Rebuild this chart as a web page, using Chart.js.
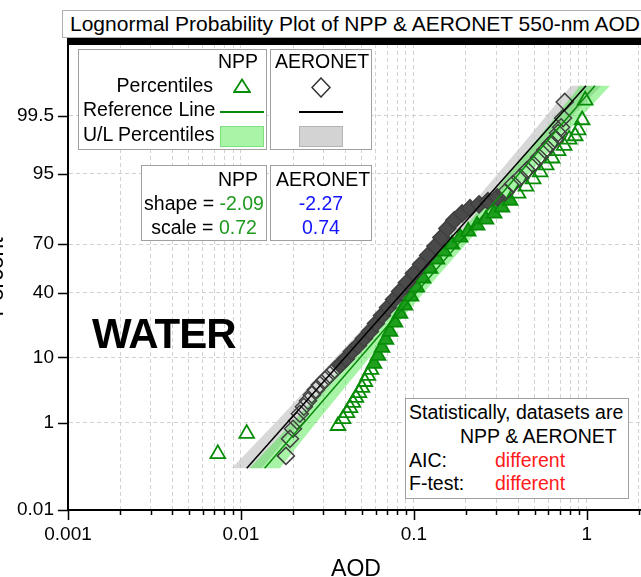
<!DOCTYPE html>
<html>
<head>
<meta charset="utf-8">
<script src="https://cdn.jsdelivr.net/npm/chart.js@4.4.0/dist/chart.umd.min.js"></script>
<style>
  html, body { margin: 0; padding: 0; background: #fff; }
  #page { position: relative; width: 641px; height: 577px; overflow: hidden; font-family: "Liberation Sans", Arial, sans-serif; color: #000; }
  #probChart { position: absolute; left: -24px; top: 0; }
  .box { position: absolute; box-sizing: border-box; border: 1px solid #a0a0a0; background: #fff; }
  .t { position: absolute; font-size: 19.5px; line-height: 19.5px; white-space: nowrap; }
  .r { text-align: right; }
  .c { text-align: center; }
  .green { color: #1f9a1f; }
  .blue { color: #1414ff; }
  .red { color: #ff1a1a; }
  .sym { position: absolute; }
</style>
</head>
<body>
<div id="page">
  <canvas id="probChart" width="690" height="600"></canvas>

  <div class="box" style="left:62px; top:10px; width:640px; height:28px; border-color:#b0b0b0;"></div>
  <div class="t" style="left:70px; top:13px; font-size:21px; line-height:21px;">Lognormal Probability Plot of NPP &amp; AERONET 550-nm AOD</div>

  <div class="box" style="left:78px; top:49px; width:189px; height:101px;"></div>
  <div class="box" style="left:270px; top:49px; width:102px; height:101px;"></div>
  <div class="t r" style="left:200px; top:51.5px; width:58px;">NPP</div>
  <div class="t r" style="left:83px; top:76px; width:130px;">Percentiles</div>
  <div class="t r" style="left:83px; top:100.2px; width:130px;">Reference Line</div>
  <div class="t r" style="left:83px; top:124.5px; width:130px;">U/L Percentiles</div>
  <svg class="sym" style="left:233px; top:78px;" width="18" height="15"><polygon points="9,1.5 1,14 17,14" fill="none" stroke="#078c07" stroke-width="1.8"/></svg>
  <div class="sym" style="left:220px; top:111px; width:44px; height:2px; background:#0a8a0a;"></div>
  <div class="sym" style="left:220px; top:126px; width:44px; height:21px; box-sizing:border-box; background:#a8f5a8; border:1px solid #80e080;"></div>
  <div class="t c" style="left:275px; top:51.5px; width:90px;">AERONET</div>
  <svg class="sym" style="left:311px; top:77px;" width="20" height="21"><polygon points="10,1 19,10.5 10,20 1,10.5" fill="#fff" stroke="#333" stroke-width="1.5"/></svg>
  <div class="sym" style="left:299px; top:111px; width:44px; height:2px; background:#000;"></div>
  <div class="sym" style="left:299px; top:126px; width:44px; height:21px; box-sizing:border-box; background:#d3d3d3; border:1px solid #b4b4b4;"></div>

  <div class="box" style="left:141px; top:165px; width:126px; height:76px;"></div>
  <div class="box" style="left:270px; top:165px; width:102px; height:76px;"></div>
  <div class="t r" style="left:200px; top:169.5px; width:58px;">NPP</div>
  <div class="t c" style="left:144px; top:193.5px; width:120px;">shape = <span class="green">-2.09</span></div>
  <div class="t c" style="left:144px; top:217.5px; width:120px;">scale = <span class="green">0.72</span></div>
  <div class="t c" style="left:276px; top:169.5px; width:90px;">AERONET</div>
  <div class="t c blue" style="left:276px; top:193.5px; width:90px;">-2.27</div>
  <div class="t c blue" style="left:276px; top:217.5px; width:90px;">0.74</div>

  <div class="t" style="left:92px; top:312.5px; font-size:42px; line-height:42px; font-weight:bold; letter-spacing:-1px;">WATER</div>

  <div class="box" style="left:405px; top:398px; width:224px; height:101px;"></div>
  <div class="t" style="left:409px; top:402.5px;">Statistically, datasets are</div>
  <div class="t" style="left:460px; top:426.5px;">NPP &amp; AERONET</div>
  <div class="t" style="left:409px; top:450.5px;">AIC:</div>
  <div class="t red" style="left:495px; top:450.5px;">different</div>
  <div class="t" style="left:409px; top:474px;">F-test:</div>
  <div class="t red" style="left:495px; top:474px;">different</div>
</div>

<script>
// Axes: AOD on a log axis, cumulative percent on a normal probability axis
const xMin = 0.001, xMax = 2.14;
const xMajorTicks = [0.001, 0.01, 0.1, 1];
const xTickLabels = ['0.001', '0.01', '0.1', '1'];
const xMinorSteps = [2, 3, 4, 5, 6, 7, 8, 9];
const yMin = 0.01, yMax = 99.99;
const yTicks = [0.01, 1, 10, 40, 70, 95, 99.5];

// NPP percentiles (green triangles)
const nppAod = [0.00735, 0.0108, 0.0364, 0.0389, 0.0410, 0.0427, 0.0444, 0.0462, 0.0481, 0.0501,
  0.0521, 0.0542, 0.0565, 0.0588, 0.0620, 0.0654, 0.0689, 0.0727, 0.0777, 0.0831,
  0.0888, 0.0962, 0.104, 0.113, 0.124, 0.136, 0.149, 0.166, 0.185, 0.206,
  0.232, 0.261, 0.291, 0.323, 0.360, 0.400, 0.445, 0.489, 0.537, 0.582,
  0.630, 0.682, 0.739, 0.790, 0.856, 0.891, 0.939, 0.978];
const nppPct = [0.238, 0.62, 0.88, 1.18, 1.51, 1.84, 2.24, 2.70, 3.23, 3.86,
  4.73, 5.76, 6.95, 8.35, 10.5, 13.0, 15.9, 19.2, 23.4, 28.0,
  32.5, 37.8, 43.4, 49.1, 55.4, 61.1, 65.9, 69.9, 73.6, 76.7,
  79.5, 82.1, 84.5, 86.7, 88.9, 90.9, 92.6, 94.1, 95.3, 96.3,
  97.1, 97.8, 98.2, 98.6, 98.78, 99.05, 99.39, 99.76];

// AERONET percentiles (grey diamonds)
const aeronetAod = [0.0182, 0.0192, 0.0200, 0.0211, 0.0219, 0.0231, 0.0244, 0.0257, 0.0271, 0.0286,
  0.0306, 0.0327, 0.0349, 0.0374, 0.0405, 0.0438, 0.0475, 0.0514, 0.0557, 0.0603,
  0.0654, 0.0708, 0.0767, 0.0831, 0.0912, 0.100, 0.110, 0.121, 0.133, 0.144,
  0.156, 0.171, 0.190, 0.211, 0.238, 0.268, 0.303, 0.337, 0.374, 0.411,
  0.451, 0.489, 0.530, 0.574, 0.613, 0.656, 0.682, 0.710, 0.729, 0.745];
const aeronetPct = [0.215, 0.49, 0.77, 1.09, 1.45, 1.92, 2.41, 3.01, 3.60, 4.28,
  5.06, 5.94, 6.95, 8.09, 9.63, 11.7, 13.7, 16.3, 19.2, 22.9,
  26.9, 31.3, 36.0, 40.9, 46.5, 52.3, 58.0, 63.5, 68.8, 73.6,
  78.1, 81.7, 84.5, 86.4, 87.7, 88.7, 89.8, 91.2, 93.1, 94.4,
  95.6, 96.4, 97.2, 97.86, 98.31, 98.61, 98.92, 99.16, 99.44, 99.74];

// Reference lines (end points)
const refPct = [0.113, 99.887];
const nppRefAod = [0.0137, 1.114];
const aeronetRefAod = [0.0108, 0.989];

// U/L percentile bands: up the lower edge, back down the upper edge
const bandPct = [0.113, 1, 5, 20, 50, 80, 95, 99, 99.887, 99.887, 99, 95, 80, 50, 20, 5, 1, 0.113];
const nppBandAod = [0.0112, 0.0198, 0.0331, 0.0607, 0.113, 0.204, 0.354, 0.563, 0.912,
  1.36, 0.775, 0.462, 0.252, 0.136, 0.0751, 0.0433, 0.0272, 0.0168];
const aeronetBandAod = [0.00884, 0.0158, 0.0268, 0.0498, 0.0941, 0.173, 0.305, 0.492, 0.810,
  1.21, 0.677, 0.399, 0.214, 0.113, 0.0617, 0.0350, 0.0217, 0.0132];

const pts = (xs, ys) => xs.map((x, i) => ({ x: x, y: ys[i] }));
const xTicks = xMajorTicks.flatMap(d => [d].concat(xMinorSteps.map(m => d * m))).filter(v => v <= xMax);

// inverse normal cdf (Acklam)
function probit(p) {
  const a = [-39.69683028665376, 220.9460984245205, -275.9285104469687, 138.3577518672690, -30.66479806614716, 2.506628277459239];
  const b = [-54.47609879822406, 161.5858368580409, -155.6989798598866, 66.80131188771972, -13.28068155288572];
  const c = [-0.007784894002430293, -0.3223964580411365, -2.400758277161838, -2.549732539343734, 4.374664141464968, 2.938163982698783];
  const d = [0.007784695709041462, 0.3224671290700398, 2.445134137142996, 3.754408661907416];
  const tail = q => (((((c[0] * q + c[1]) * q + c[2]) * q + c[3]) * q + c[4]) * q + c[5]) /
    ((((d[0] * q + d[1]) * q + d[2]) * q + d[3]) * q + 1);
  if (p < 0.02425) return tail(Math.sqrt(-2 * Math.log(p)));
  if (p > 1 - 0.02425) return -tail(Math.sqrt(-2 * Math.log(1 - p)));
  const q = p - 0.5, r = q * q;
  return (((((a[0] * r + a[1]) * r + a[2]) * r + a[3]) * r + a[4]) * r + a[5]) * q /
    (((((b[0] * r + b[1]) * r + b[2]) * r + b[3]) * r + b[4]) * r + 1);
}
function normCdf(z) {
  const t = 1 / (1 + 0.3275911 * Math.abs(z) / Math.SQRT2);
  const e = 1 - ((((1.061405429 * t - 1.453152027) * t + 1.421413741) * t - 0.284496736) * t + 0.254829592) * t * Math.exp(-z * z / 2);
  return z >= 0 ? (1 + e) / 2 : (1 - e) / 2;
}

// normal probability axis, values in percent
class ProbabilityScale extends Chart.Scale {
  determineDataLimits() {
    this.min = this.options.min;
    this.max = this.options.max;
  }
  buildTicks() {
    return yTicks.map(v => ({ value: v }));
  }
  configure() {
    super.configure();
    this._zStart = probit(this.min / 100);
    this._zRange = probit(this.max / 100) - this._zStart;
  }
  getLabelForValue(v) { return String(v); }
  getPixelForValue(v) {
    return this.getPixelForDecimal((probit(v / 100) - this._zStart) / this._zRange);
  }
  getValueForPixel(px) {
    return 100 * normCdf(this._zStart + this.getDecimalForPixel(px) * this._zRange);
  }
}
ProbabilityScale.id = 'probability';
ProbabilityScale.defaults = {};
Chart.register(ProbabilityScale);

// tick marks (long at decades, short in between) and the heavy top frame
const axisDecor = {
  id: 'axisDecor',
  afterDraw(chart) {
    const { ctx, chartArea: a, scales: { x, y } } = chart;
    ctx.save();
    ctx.strokeStyle = '#000';
    ctx.lineWidth = 1.5;
    ctx.beginPath();
    x.ticks.forEach(t => {
      const px = Math.round(x.getPixelForValue(t.value)) + 0.5;
      const len = xMajorTicks.includes(t.value) ? 10 : 5;
      ctx.moveTo(px, a.bottom);
      ctx.lineTo(px, a.bottom + len);
    });
    y.ticks.forEach(t => {
      const py = Math.round(y.getPixelForValue(t.value)) + 0.5;
      ctx.moveTo(a.left, py);
      ctx.lineTo(a.left - 10, py);
    });
    ctx.stroke();
    ctx.fillStyle = '#000';
    ctx.fillRect(a.left - 1, a.top - 6, chart.width - a.left + 1, 7);
    ctx.restore();
  }
};

const clearFill = 'rgba(255,255,255,0)';
const aeronetFill = aeronetPct.map(p => (p > 7.5 && p < 90.5) ? '#4a4a4a' : clearFill);
const nppFill = nppPct.map(p => (p > 7.5 && p < 89.5) ? '#1ea01e' : clearFill);

Chart.defaults.font.family = '"Liberation Sans", Arial, sans-serif';
Chart.defaults.color = '#000';

const axisBorder = { display: true, color: '#000', width: 2, dash: [4, 3] };

const chart = new Chart(document.getElementById('probChart'), {
  type: 'scatter',
  data: {
    datasets: [
      {
        label: 'AERONET Reference Line',
        data: pts(aeronetRefAod, refPct),
        showLine: true, borderColor: '#000', borderWidth: 1.5, pointRadius: 0, order: 0
      },
      {
        label: 'NPP Reference Line',
        data: pts(nppRefAod, refPct),
        showLine: true, borderColor: '#0a8a0a', borderWidth: 1.5, pointRadius: 0, order: 0
      },
      {
        label: 'AERONET Percentiles',
        data: pts(aeronetAod, aeronetPct),
        pointStyle: 'rectRot', pointRadius: 8.5, pointBorderWidth: 1.5,
        pointBorderColor: '#404040', pointBackgroundColor: aeronetFill, order: 1
      },
      {
        label: 'NPP Percentiles',
        data: pts(nppAod, nppPct),
        pointStyle: 'triangle', pointRadius: 8.5, pointBorderWidth: 1.8,
        pointBorderColor: '#078c07', pointBackgroundColor: nppFill, order: 2
      },
      {
        label: 'NPP U/L Percentiles',
        data: pts(nppBandAod, bandPct),
        showLine: true, fill: 'shape', backgroundColor: 'rgba(60,230,60,0.45)',
        borderColor: 'transparent', borderWidth: 0, pointRadius: 0, order: 3
      },
      {
        label: 'AERONET U/L Percentiles',
        data: pts(aeronetBandAod, bandPct),
        showLine: true, fill: 'shape', backgroundColor: 'rgba(190,190,190,0.6)',
        borderColor: 'transparent', borderWidth: 0, pointRadius: 0, order: 4
      }
    ]
  },
  options: {
    responsive: false,
    animation: false,
    devicePixelRatio: 1,
    layout: { padding: { left: 0, right: 22, top: 44, bottom: 17 } },
    plugins: {
      legend: { display: false },
      tooltip: { enabled: false }
    },
    scales: {
      x: {
        type: 'logarithmic',
        position: 'bottom',
        min: xMin,
        max: xMax,
        afterBuildTicks: s => { s.ticks = xTicks.map(v => ({ value: v })); },
        afterFit: s => { s.height = 73; },
        ticks: {
          autoSkip: false,
          maxRotation: 0,
          padding: 13,
          font: { size: 19 },
          color: '#000',
          callback: v => {
            const i = xMajorTicks.indexOf(v);
            return i >= 0 ? xTickLabels[i] : '';
          }
        },
        grid: { color: '#d2d2d2', lineWidth: 1, drawTicks: false },
        border: axisBorder,
        title: { display: true, text: 'AOD', font: { size: 23 }, color: '#000', padding: { top: 0, bottom: 0 } }
      },
      y: {
        type: 'probability',
        position: 'left',
        min: yMin,
        max: yMax,
        afterFit: s => { s.width = 92; },
        ticks: { autoSkip: false, padding: 14, font: { size: 19 }, color: '#000' },
        grid: { color: '#d2d2d2', lineWidth: 1, drawTicks: false },
        border: axisBorder,
        title: { display: true, text: 'Percent', font: { size: 23 }, color: '#000', padding: { top: 7, bottom: 0 } }
      }
    }
  },
  plugins: [axisDecor]
});
</script>
</body>
</html>
